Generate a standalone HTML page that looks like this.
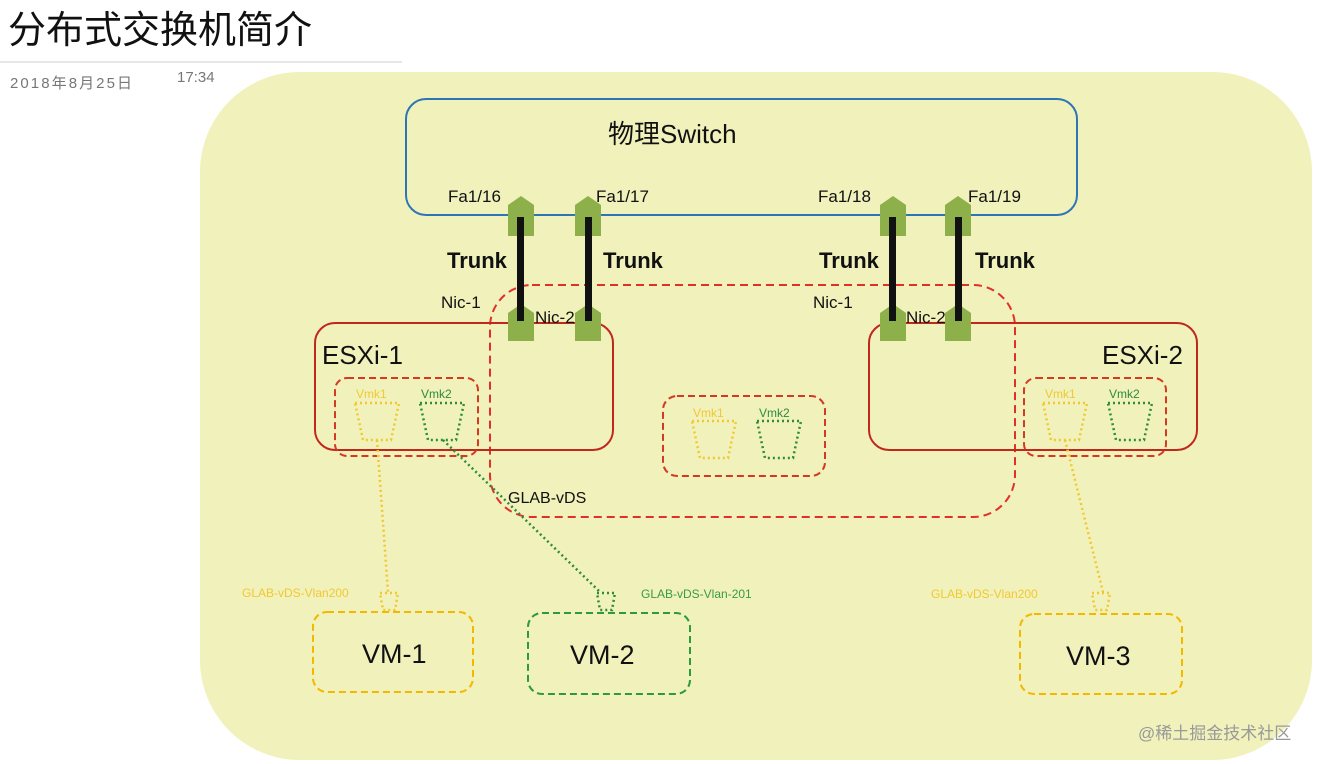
<!DOCTYPE html>
<html><head><meta charset="utf-8"><style>
html,body{margin:0;padding:0;background:#fff;width:1320px;height:764px;overflow:hidden}
svg{display:block}
text{font-family:"Liberation Sans","Noto Sans CJK SC",sans-serif}
</style></head><body>
<svg width="1320" height="764" viewBox="0 0 1320 764" xmlns="http://www.w3.org/2000/svg">
<defs>
<g id="vmkL"><path d="M0,0 L44,0 L36,37 L8,37 Z" fill="none" stroke="#f2c832" stroke-width="2.5" stroke-dasharray="2,3"/></g>
<g id="vmkG"><path d="M0,0 L44,0 L36,37 L8,37 Z" fill="none" stroke="#2e8b3e" stroke-width="2.5" stroke-dasharray="2,3"/></g>
</defs>
<text x="8" y="43" font-size="38" fill="#111">分布式交换机简介</text>
<line x1="0" y1="62" x2="402" y2="62" stroke="#ddd" stroke-width="1.5"/>
<text x="10" y="88" font-size="15" fill="#777" textLength="122">2018年8月25日</text>
<text x="177" y="82" font-size="15" fill="#777">17:34</text>
<rect x="200" y="72" width="1112" height="688" rx="100" fill="#f0f1bb"/>
<rect x="406" y="99" width="671" height="116" rx="20" fill="none" stroke="#2e75b6" stroke-width="2"/>
<text x="608" y="143" font-size="26" fill="#111">物理Switch</text>
<g font-size="17" fill="#111"><text x="448" y="202">Fa1/16</text><text x="596" y="202">Fa1/17</text><text x="818" y="202">Fa1/18</text><text x="968" y="202">Fa1/19</text></g>
<rect x="490" y="285" width="525" height="232" rx="42" fill="none" stroke="#e0302a" stroke-width="2" stroke-dasharray="8,5"/>
<rect x="315" y="323" width="298" height="127" rx="20" fill="none" stroke="#c0281e" stroke-width="2"/>
<rect x="869" y="323" width="328" height="127" rx="20" fill="none" stroke="#c0281e" stroke-width="2"/>
<text x="322" y="364" font-size="26" fill="#111">ESXi-1</text>
<text x="1102" y="364" font-size="26" fill="#111">ESXi-2</text>
<g fill="none" stroke="#d43a22" stroke-width="2" stroke-dasharray="7,4">
<rect x="335" y="378" width="143" height="78" rx="12"/>
<rect x="1024" y="378" width="142" height="78" rx="12"/>
<rect x="663" y="396" width="162" height="80" rx="14"/>
</g>
<g fill="#8db04a">
<path d="M508,205 L521,196 L534,205 L534,236 L508,236Z"/>
<path d="M575,205 L588,196 L601,205 L601,236 L575,236Z"/>
<path d="M880,205 L893,196 L906,205 L906,236 L880,236Z"/>
<path d="M945,205 L958,196 L971,205 L971,236 L945,236Z"/>
<path d="M508,313 L521,304 L534,313 L534,341 L508,341Z"/>
<path d="M575,313 L588,304 L601,313 L601,341 L575,341Z"/>
<path d="M880,313 L893,304 L906,313 L906,341 L880,341Z"/>
<path d="M945,313 L958,304 L971,313 L971,341 L945,341Z"/>
</g>
<g fill="#111"><rect x="517" y="217" width="7" height="104"/><rect x="585" y="217" width="7" height="104"/><rect x="889" y="217" width="7" height="104"/><rect x="955" y="217" width="7" height="104"/></g>
<g font-size="22" font-weight="bold" fill="#111"><text x="447" y="268">Trunk</text><text x="603" y="268">Trunk</text><text x="819" y="268">Trunk</text><text x="975" y="268">Trunk</text></g>
<g font-size="17" fill="#111"><text x="441" y="308">Nic-1</text><text x="535" y="323">Nic-2</text><text x="813" y="308">Nic-1</text><text x="906" y="323">Nic-2</text></g>
<g font-size="12"><text x="356" y="398" fill="#f2c832">Vmk1</text><text x="421" y="398" fill="#2e8b3e">Vmk2</text>
<text x="693" y="417" fill="#f2c832">Vmk1</text><text x="759" y="417" fill="#2e8b3e">Vmk2</text>
<text x="1045" y="398" fill="#f2c832">Vmk1</text><text x="1109" y="398" fill="#2e8b3e">Vmk2</text></g>
<use href="#vmkL" x="355" y="403"/><use href="#vmkG" x="420" y="403"/>
<use href="#vmkL" x="692" y="421"/><use href="#vmkG" x="757" y="421"/>
<use href="#vmkL" x="1043" y="403"/><use href="#vmkG" x="1108" y="403"/>
<text x="508" y="503" font-size="16" fill="#111">GLAB-vDS</text>
<g fill="none" stroke-width="2.5" stroke-dasharray="2,3">
<path d="M377,440 L388,592" stroke="#f2c832"/>
<path d="M443,440 L600,592" stroke="#2e8b3e"/>
<path d="M1065,440 L1103,592" stroke="#f2c832"/>
<path d="M380,593 L398,593 L395,610 L383,610Z" stroke="#f2c832"/>
<path d="M597,593 L615,593 L612,610 L600,610Z" stroke="#2e8b3e"/>
<path d="M1092,593 L1110,593 L1107,610 L1095,610Z" stroke="#f2c832"/>
</g>
<g font-size="12"><text x="242" y="597" fill="#f2c832">GLAB-vDS-Vlan200</text><text x="641" y="598" fill="#3a9a48">GLAB-vDS-Vlan-201</text><text x="931" y="598" fill="#f2c832">GLAB-vDS-Vlan200</text></g>
<g fill="none" stroke-width="2" stroke-dasharray="7,4">
<rect x="313" y="612" width="160" height="80" rx="14" stroke="#f5b800"/>
<rect x="528" y="613" width="162" height="81" rx="14" stroke="#2e9a3e"/>
<rect x="1020" y="614" width="162" height="80" rx="14" stroke="#f5b800"/>
</g>
<g font-size="27" fill="#111"><text x="362" y="663">VM-1</text><text x="570" y="664">VM-2</text><text x="1066" y="665">VM-3</text></g>
<text x="1138" y="739" font-size="17" fill="#999">@稀土掘金技术社区</text>
</svg>
</body></html>
